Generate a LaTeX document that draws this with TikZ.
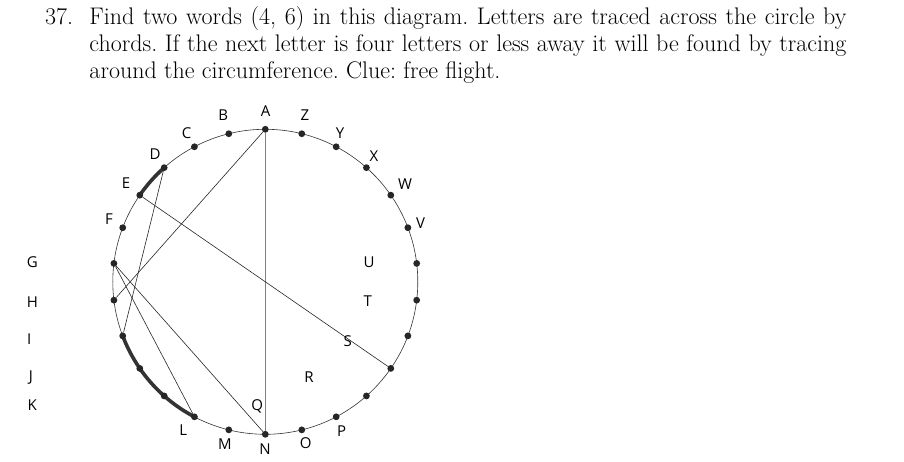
\documentclass[tikz,border=0pt]{standalone}
\usepackage{fontspec}
\newfontfamily\lblfont{Open Sans}
\frenchspacing
\begin{document}
\begin{tikzpicture}[x=1pt, y=1pt,
  dot/.style={circle, fill=black!85, inner sep=0pt, minimum size=6.8pt},
  lbl/.style={font=\lblfont\fontsize{15}{16}\selectfont, inner sep=0pt},
  txt/.style={font=\fontsize{24}{26}\selectfont, inner sep=0pt, anchor=base west},
  chord/.style={black!85, line width=0.6pt},
  heavy/.style={black!80, line width=3.6pt, line cap=round}]
\useasboundingbox (-265.3,-180.2) rectangle (638.7,281.8);

% question
\node[txt] (num) at (-220.3,256.8) {37.};
\node[txt] (line1) at (-176,256.8) {\makebox[757pt][s]{Find two words (4, 6) in this diagram. Letters are traced across the circle by}};
\node[txt] (line2) at (-176,230.1) {\makebox[757pt][s]{chords. If the next letter is four letters or less away it will be found by tracing}};
\node[txt] (line3) at (-176,202.8) {around the circumference. Clue: free flight.};

% circle and the letter points
\draw[black!80, line width=0.6pt] (0,0) circle (152.5);
\draw[heavy] ({90+3*360/26}:152.5) arc[start angle={90+3*360/26}, end angle={90+4*360/26}, radius=152.5];
\draw[heavy] ({90+8*360/26}:152.5) arc[start angle={90+8*360/26}, end angle={90+11*360/26}, radius=152.5];
\foreach \l [count=\i from 0] in {A,B,C,D,E,F,G,H,I,J,K,L,M,N,O,P,Q,R,S,T,U,V,W,X,Y,Z}
  \node[dot] (\l) at ({90+\i*360/26}:152.5) {};

% chords
\draw[black!50, line width=1.3pt] (A) -- (N);
\draw[chord] (A) -- (H);
\draw[chord] (D) -- (I);
\draw[chord] (E) -- (R);
\draw[chord] (G) -- (L);
\draw[chord] (G) -- (N);

% letters
\node[lbl] (lA) at (0.4,170.8) {A};
\node[lbl] (lB) at (-42,166.8) {B};
\node[lbl] (lC) at (-78.6,148.5) {C};
\node[lbl] (lD) at (-110.3,127.8) {D};
\node[lbl] (lE) at (-139.3,98.5) {E};
\node[lbl] (lF) at (-156.3,62.8) {F};
\node[lbl] (lG) at (-233,20.1) {G};
\node[lbl] (lH) at (-233,-19.9) {H};
\node[lbl] (lI) at (-236,-57.2) {I};
\node[lbl] (lJ) at (-234.3,-95.5) {J};
\node[lbl] (lK) at (-233,-123.2) {K};
\node[lbl] (lL) at (-82,-148.2) {L};
\node[lbl] (lM) at (-40.3,-162.5) {M};
\node[lbl] (lN) at (-0.3,-167.5) {N};
\node[lbl] (lO) at (40.4,-160.9) {O};
\node[lbl] (lP) at (76.4,-149.2) {P};
\node[lbl] (lQ) at (-8,-124.9) {Q};
\node[lbl] (lR) at (43.7,-95.5) {R};
\node[lbl] (lS) at (82.4,-59.2) {S};
\node[lbl] (lT) at (102.4,-19.2) {T};
\node[lbl] (lU) at (103.7,19.5) {U};
\node[lbl] (lV) at (155.4,59.1) {V};
\node[lbl] (lW) at (139.7,97.5) {W};
\node[lbl] (lX) at (108.7,126.1) {X};
\node[lbl] (lY) at (74.7,148.5) {Y};
\node[lbl] (lZ) at (39.7,166.8) {Z};
\end{tikzpicture}
\end{document}
